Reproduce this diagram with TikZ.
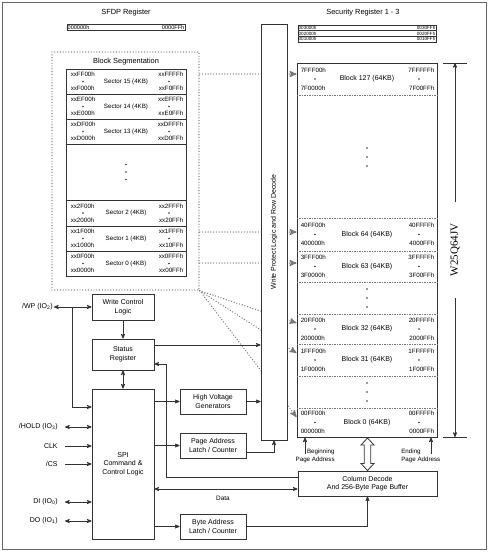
\documentclass[tikz,border=0pt]{standalone}
\usepackage{fontspec}
\setmainfont{Liberation Sans}
\newfontfamily\chipfont{Liberation Serif}
\usetikzlibrary{arrows}
\definecolor{linegray}{HTML}{333333}
\definecolor{dotgray}{HTML}{777777}
\definecolor{framegray}{HTML}{666666}

\begin{document}
\begin{tikzpicture}[x=1pt,y=-1pt,>=stealth',line width=0.7pt,draw=linegray,
	box/.style={draw=linegray,line width=0.9pt,fill=white,align=center,inner sep=0pt,font=\fontsize{7}{8.6}\selectfont},
	reg/.style={draw=linegray,line width=0.6pt,minimum width=138pt,minimum height=5.6pt,inner sep=0pt},
	addr/.style={inner sep=0.4pt,font=\fontsize{6.2}{6.2}\selectfont},
	tiny/.style={inner sep=0.6pt,font=\fontsize{4.6}{4.6}\selectfont},
	lbl/.style={inner sep=1pt,font=\fontsize{7.4}{8}\selectfont},
	sig/.style={inner sep=1pt,anchor=east,font=\fontsize{7}{8}\selectfont},
	hop/.style={dotgray,line width=1.4pt,dash pattern=on 0pt off 2.8pt,line cap=round},
	sep/.style={dotgray,line width=0.6pt,dash pattern=on 1.5pt off 1pt}]

	\useasboundingbox (0,0) rectangle (488,552);
	\draw[framegray,line width=0.9pt] (2,2) rectangle (486,549);

	% registers on top
	\node[lbl] (sfdptitle) at (126,13) {SFDP Register};
	\node[reg,minimum width=118pt,minimum height=6pt] (sfdp) at (126,27) {};
	\node[tiny,anchor=west,font=\fontsize{5.6}{5.6}\selectfont] (sfdplo) at (sfdp.west) {000000h};
	\node[tiny,anchor=east,font=\fontsize{5.6}{5.6}\selectfont] (sfdphi) at (sfdp.east) {0000FFh};

	\node[lbl] (sectitle) at (363,13) {Security Register 1 - 3};
	\foreach \c/\n/\lo/\hi in {27.8/3/003000h/0030FFh,33.4/2/002000h/0020FFh,39/1/001000h/0010FFh}{
		\node[reg] (sr\n) at (367,\c) {};
		\node[tiny,anchor=west] (sr\n lo) at (sr\n.west) {\lo};
		\node[tiny,anchor=east] (sr\n hi) at (sr\n.east) {\hi};
	}

	% block segmentation
	\node[draw=dotgray,line width=1.4pt,dash pattern=on 0pt off 2.8pt,line cap=round,
		minimum width=147pt,minimum height=238pt] (segbox) at (125.5,171) {};
	\node[lbl] (segtitle) at (126,62) {Block Segmentation};
	\node[draw=linegray,line width=0.9pt,minimum width=120pt,minimum height=207pt] (sectors) at (126,172.5) {};
	\foreach \y in {94,119,144,200,226,251}
		\draw[linegray,line width=0.8pt] (sectors.west |- 0,\y) -- (sectors.east |- 0,\y);
	\foreach \y in {164.5,172,179.5}
		\fill[linegray] (126,\y) circle (0.8);
	\foreach \c/\num/\ta/\ba/\tb/\bb in {81.5/15/xxFF00h/xxF000h/xxFFFFh/xxF0FFh,
		106.5/14/xxEF00h/xxE000h/xxEFFFh/xxE0FFh,
		131.5/13/xxDF00h/xxD000h/xxDFFFh/xxD0FFh,
		213/2/xx2F00h/xx2000h/xx2FFFh/xx20FFh,
		238.5/1/xx1F00h/xx1000h/xx1FFFh/xx10FFh,
		263.5/0/xx0F00h/xx0000h/xx0FFFh/xx00FFh}{
		\node[addr,anchor=west] (s\num-tl) at (70,\c-7) {\ta};
		\node[addr,anchor=west] (s\num-bl) at (70,\c+7) {\ba};
		\node[addr,anchor=east] (s\num-tr) at (184,\c-7) {\tb};
		\node[addr,anchor=east] (s\num-br) at (184,\c+7) {\bb};
		\fill[linegray] (83,\c) circle (0.8) (169,\c) circle (0.8);
		\node[addr] (s\num) at (126,\c) {Sector \num\ (4KB)};
	}

	% memory array
	\node[draw=linegray,line width=1pt,minimum width=140pt,minimum height=374pt] (array) at (367,250) {};
	\foreach \y in {95,218,251,282,314,344,376,408}
		\draw[sep] (array.west |- 0,\y) -- (array.east |- 0,\y);
	\foreach \y in {148,157,166,289,298,307,383,392,401}
		\fill[linegray] (367,\y) circle (0.8);
	\foreach \c/\num/\ta/\ba/\tb/\bb in {79/127/7FFF00h/7F0000h/7FFFFFh/7F00FFh,
		234.5/64/40FF00h/400000h/40FFFFh/4000FFh,
		266.5/63/3FFF00h/3F0000h/3FFFFFh/3F00FFh,
		329/32/20FF00h/200000h/20FFFFh/2000FFh,
		360/31/1FFF00h/1F0000h/1FFFFFh/1F00FFh,
		422.5/0/00FF00h/000000h/00FFFFh/0000FFh}{
		\node[addr,anchor=west] (b\num-tl) at (300,\c-9) {\ta};
		\node[addr,anchor=west] (b\num-bl) at (300,\c+9) {\ba};
		\node[addr,anchor=east] (b\num-tr) at (435,\c-9) {\tb};
		\node[addr,anchor=east] (b\num-br) at (435,\c+9) {\bb};
		\fill[linegray] (315,\c) circle (0.8) (419,\c) circle (0.8);
		\node[lbl,font=\fontsize{7}{8}\selectfont] (b\num) at (367,\c) {Block \num\ (64KB)};
	}

	% sector to block hops, under the decode column
	\foreach \y in {74,232,263}
		\draw[hop,->] (segbox.east |- 0,\y) -- (array.west |- 0,\y);
	\foreach \y in {323,353,417}
		\draw[hop,->] (segbox.south east) -- (array.west |- 0,\y);

	\node[box,minimum width=26pt,minimum height=416pt] (rowdec) at (274,232) {};
	\node[lbl,rotate=90,font=\fontsize{7}{8}\selectfont] (rowdectext) at (rowdec.center) {Write Protect Logic and Row Decode};

	% control logic
	\node[box,minimum width=62pt,minimum height=26pt] (wcl) at (123,307) {Write Control\\Logic};
	\node[box,minimum width=62pt,minimum height=31pt] (status) at (123,354.5) {Status\\Register};
	\node[box,minimum width=62pt,minimum height=150pt] (spi) at (123,464) {SPI\\Command \&\\Control Logic};
	\node[box,minimum width=66pt,minimum height=25pt] (hv) at (213,401.5) {High Voltage\\Generators};
	\node[box,minimum width=66pt,minimum height=25pt] (pal) at (213,445.5) {Page Address\\Latch / Counter};
	\node[box,minimum width=66pt,minimum height=25pt] (bal) at (213,526.5) {Byte Address\\Latch / Counter};
	\node[box,minimum width=139pt,minimum height=25pt] (cd) at (367.5,483.5) {Column Decode\\And 256-Byte Page Buffer};

	\node[sig] (wp) at (54,307) {/WP (IO\textsubscript{2})};
	\node[sig] (hold) at (59,427) {/HOLD (IO\textsubscript{3})};
	\node[sig] (clk) at (59,446) {CLK};
	\node[sig] (cs) at (59,464) {/CS};
	\node[sig] (di) at (59,502) {DI (IO\textsubscript{0})};
	\node[sig] (do) at (59,521) {DO (IO\textsubscript{1})};

	\draw[<->] (wp) -- (wcl);
	\coordinate (wpjoin) at (72,307);
	\draw[->] (wpjoin) |- (spi.west |- 0,407);
	\draw[<->,shorten <=6pt] (hold) -- (hold -| spi.west);
	\draw[->,shorten <=6pt] (clk) -- (clk -| spi.west);
	\draw[->,shorten <=6pt] (cs) -- (cs -| spi.west);
	\draw[<->,shorten <=6pt] (di) -- (di -| spi.west);
	\draw[<->,shorten <=6pt] (do) -- (do -| spi.west);

	\draw[->] (wcl) -- (status);
	\draw[<->] (status) -- (spi);
	\draw[->] (status.east |- 0,345) -- (rowdec.west |- 0,345);
	\draw[->] (spi.east |- hv) -- (hv);
	\draw[->] (spi.east |- pal) -- (pal);
	\draw[->] (spi.east |- bal) -- (bal);
	\draw[->] (hv) -- (hv -| rowdec.west);
	\draw[->] (pal.east |- 0,452) -| (rowdec.south);
	\draw[->] (cd.west |- 0,477) -| (166,364) -- (status.east |- 0,364);
	\draw[<->] (spi.east |- 0,489) -- (cd.west |- 0,489);
	\node[lbl,font=\fontsize{6.4}{7}\selectfont] (data) at (223,498) {Data};
	\draw[->] (bal) -| (cd);

	% array to page buffer
	\draw[linegray,line width=0.8pt,fill=white] (367.5,438) -- (374,445) -- (370.8,445) -- (370.8,463.5)
		-- (374,463.5) -- (367.5,470.5) -- (361,463.5) -- (364.2,463.5) -- (364.2,445) -- (361,445) -- cycle;

	\coordinate (begfoot) at (305,454);
	\draw[->] (begfoot) -- (begfoot |- array.south);
	\node[lbl,align=right,anchor=east,font=\fontsize{6.2}{7.6}\selectfont] (begtext) at (336,456) {Beginning\\Page Address};
	\coordinate (endfoot) at (431,454);
	\draw[->] (endfoot) -- (endfoot |- array.south);
	\node[lbl,align=left,anchor=west,font=\fontsize{6.2}{7.6}\selectfont] (endtext) at (400,456) {Ending\\Page Address};

	% device size
	\coordinate (dimtop) at (455,63);
	\coordinate (dimbot) at (455,437);
	\draw (443,63) -- (467,63) (443,437) -- (467,437);
	\node[rotate=90,inner sep=1pt,font=\chipfont\fontsize{11}{12}\selectfont] (chip) at (455,250) {W25Q64JV};
	\draw[->] (455,202) -- (dimtop);
	\draw[->] (455,298) -- (dimbot);

\end{tikzpicture}
\end{document}
